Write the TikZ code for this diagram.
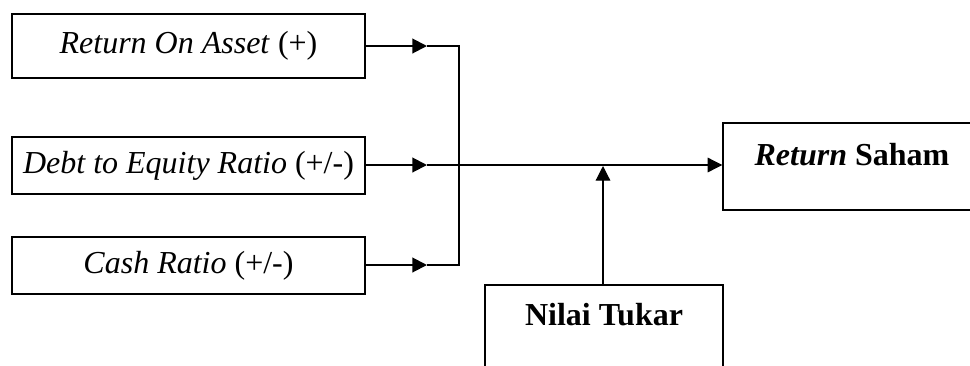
\documentclass[tikz,border=0pt]{standalone}
\usepackage{fontspec}
\setmainfont{Liberation Serif}
\usetikzlibrary{arrows.meta}
\begin{document}
\begin{tikzpicture}[x=0.75pt,y=-0.75pt,
  box/.style={draw,line width=1.1pt,inner sep=0pt,font=\fontsize{24}{28}\selectfont},
  txt/.style={inner sep=0pt,anchor=base,font=\fontsize{24}{28}\selectfont},
  thick line/.style={line width=1.5pt},
  thin line/.style={line width=0.9pt},
  tip/.style={-{Triangle[length=11pt,width=11pt]}}]
\useasboundingbox (0,0) rectangle (970,365);
\clip (0,0) rectangle (970,365);
\node[box,minimum width={353*0.75pt},minimum height={64*0.75pt}] (roa) at (188.5,46) {\textit{Return On Asset} (+)};
\node[box,minimum width={353*0.75pt},minimum height={57*0.75pt}] (der) at (188.5,165.5) {\textit{Debt to Equity Ratio} (+/-)};
\node[box,minimum width={353*0.75pt},minimum height={57*0.75pt}] (cash) at (188.5,265.5) {\textit{Cash Ratio} (+/-)};
\node[box,minimum width={257*0.75pt},minimum height={87*0.75pt}] (ret) at (851.5,166.5) {};
\node[txt] (rettxt) at (852,165) {\textbf{\textit{Return} Saham}};
\node[box,minimum width={238*0.75pt},minimum height={90*0.75pt}] (nilai) at (604,330) {};
\node[txt] (nilaitxt) at (604,325) {\textbf{Nilai Tukar}};
\coordinate (t1) at (427,46);
\coordinate (t2) at (427,165);
\coordinate (t3) at (427,265);
\coordinate (j1) at (459,46);
\coordinate (j3) at (459,265);
\coordinate (m) at (603,166);
\draw[thick line,tip] (roa.east |- t1) -- (t1);
\draw[thick line,tip] (der.east |- t2) -- (t2);
\draw[thick line,tip] (cash.east |- t3) -- (t3);
\draw[thin line] (t1) -- (j1) -- (j3) -- (t3);
\draw[thin line,tip] (t2) -- (t2 -| ret.west);
\draw[thin line,tip] (nilai.north -| m) -- (m);
\end{tikzpicture}
\end{document}
